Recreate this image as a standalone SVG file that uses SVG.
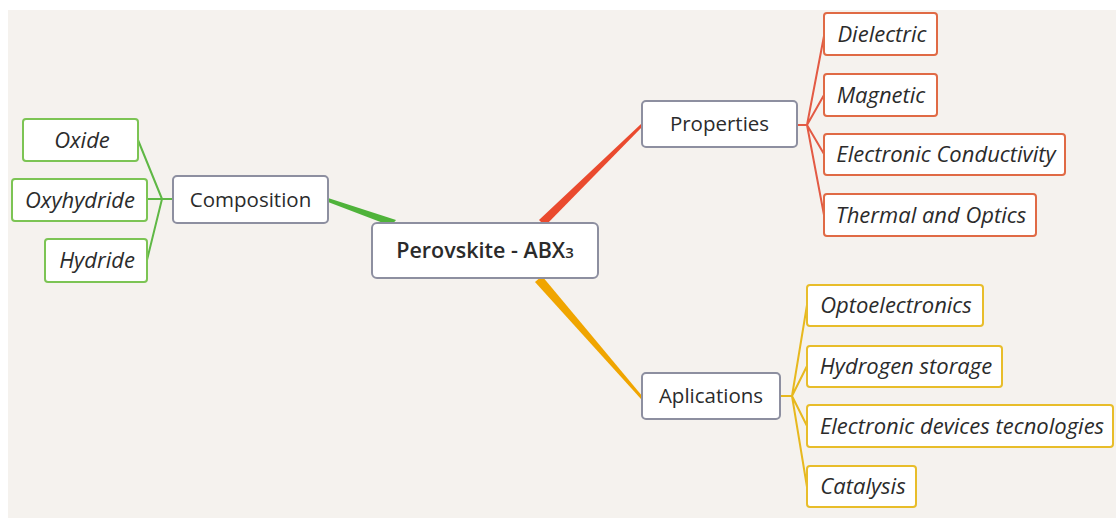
<svg xmlns="http://www.w3.org/2000/svg" width="1116" height="520" viewBox="0 0 1116 520">
  <style>
    text { font-family: "Open Sans", "Noto Sans", "Liberation Sans", sans-serif; fill: #2b2b2b; }
    .main rect { fill: #ffffff; stroke: #8d8fa0; stroke-width: 2; }
    .main text { font-size: 20.5px; text-anchor: middle; }
    .leaf text { font-size: 22px; font-style: italic; text-anchor: middle; }
    .leaf rect { fill: #ffffff; stroke-width: 2; }
    .g rect { stroke: #7cc454; }
    .r rect { stroke: #e06a45; }
    .y rect { stroke: #e8bd2a; }
    .cg { stroke: #5fb845; fill: none; stroke-width: 2; }
    .cr { stroke: #e35a44; fill: none; stroke-width: 2; }
    .cy { stroke: #e7b81e; fill: none; stroke-width: 2; }
  </style>
  <rect x="0" y="0" width="1116" height="520" fill="#ffffff"/>
  <rect x="8" y="10" width="1108" height="508" fill="#f5f2ee"/>

  <g id="connectors">
    <polygon points="328,198 328,202 391,226 396,220" fill="#4fb33a"/>
    <polygon points="539,220 641,124 643,126 545,226" fill="#ea4a2e"/>
    <polygon points="535,282 542,276 643,397 641,399" fill="#f0a500"/>
    <path class="cg" d="M173,199 H162 M162,199 L138,140 M162,199 H147 M162,199 L147,260"/>
    <path class="cr" d="M797,125 H807 M807,125 L824,36 M807,125 L824,95 M807,125 L824,154 M807,125 L824,215"/>
    <path class="cy" d="M780,396 H792 M792,396 L807,305 M792,396 L807,366 M792,396 L807,426 M792,396 L807,487"/>
  </g>

  <g id="perovskite" class="main">
    <rect x="372" y="223" width="226" height="55" rx="5"/>
    <text x="485" y="258" style="font-weight:600;font-size:21.5px">Perovskite - ABX<tspan font-size="15">3</tspan></text>
  </g>
  <g id="composition" class="main">
    <rect x="173" y="176" width="155" height="47" rx="4"/>
    <text x="250.5" y="207">Composition</text>
  </g>
  <g id="properties" class="main">
    <rect x="642" y="101" width="155" height="46" rx="4"/>
    <text x="719.5" y="131">Properties</text>
  </g>
  <g id="aplications" class="main">
    <rect x="642" y="373" width="138" height="46" rx="4"/>
    <text x="711" y="403">Aplications</text>
  </g>

  <g id="oxide" class="leaf g">
    <rect x="23" y="119" width="115" height="42" rx="3"/>
    <text x="82" y="148">Oxide</text>
  </g>
  <g id="oxyhydride" class="leaf g">
    <rect x="12" y="179" width="135" height="42" rx="3"/>
    <text x="80" y="208">Oxyhydride</text>
  </g>
  <g id="hydride" class="leaf g">
    <rect x="45" y="239" width="102" height="43" rx="3"/>
    <text x="97" y="268">Hydride</text>
  </g>

  <g id="dielectric" class="leaf r">
    <rect x="824" y="13" width="113" height="42" rx="3"/>
    <text x="882" y="42">Dielectric</text>
  </g>
  <g id="magnetic" class="leaf r">
    <rect x="824" y="74" width="113" height="42" rx="3"/>
    <text x="881" y="103">Magnetic</text>
  </g>
  <g id="conductivity" class="leaf r">
    <rect x="824" y="134" width="241" height="41" rx="3"/>
    <text x="946" y="162">Electronic Conductivity</text>
  </g>
  <g id="thermal" class="leaf r">
    <rect x="824" y="194" width="212" height="42" rx="3"/>
    <text x="931" y="223">Thermal and Optics</text>
  </g>

  <g id="optoelectronics" class="leaf y">
    <rect x="807" y="285" width="176" height="41" rx="3"/>
    <text x="896" y="313">Optoelectronics</text>
  </g>
  <g id="hydrogen" class="leaf y">
    <rect x="807" y="346" width="195" height="41" rx="3"/>
    <text x="906" y="374">Hydrogen storage</text>
  </g>
  <g id="devices" class="leaf y">
    <rect x="807" y="405" width="306" height="42" rx="3"/>
    <text x="962" y="434">Electronic devices tecnologies</text>
  </g>
  <g id="catalysis" class="leaf y">
    <rect x="807" y="466" width="109" height="41" rx="3"/>
    <text x="863" y="494">Catalysis</text>
  </g>
</svg>
